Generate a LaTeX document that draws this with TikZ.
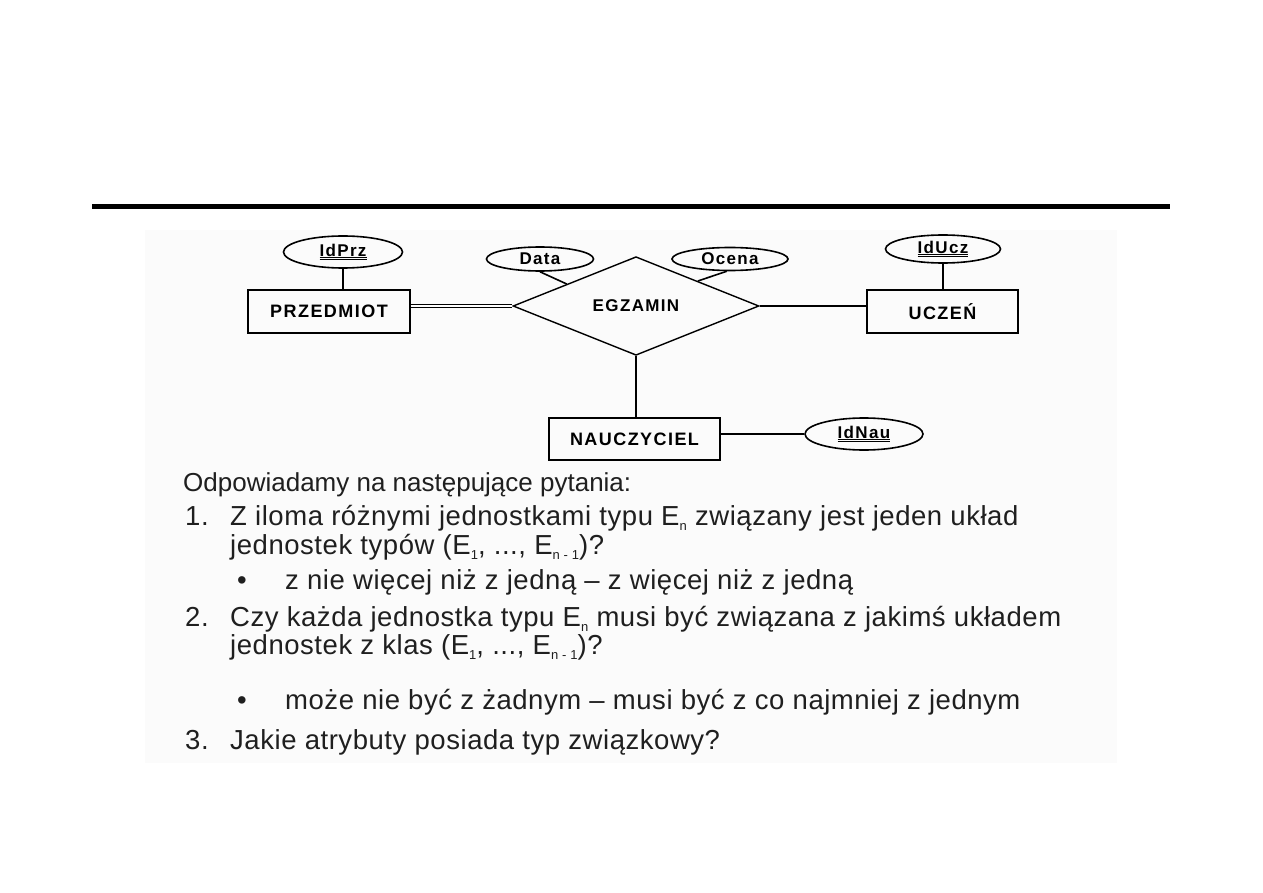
\documentclass[tikz,border=0pt]{standalone}
\usepackage{fontspec}
\setmainfont{Liberation Sans}
\newfontfamily\erfont[LetterSpace=8]{Liberation Sans}
\newfontfamily\itemfont[LetterSpace=2]{Liberation Sans}
\usepackage{tikz}
\usetikzlibrary{shapes.geometric,calc}

\newcommand{\klucz}[1]{\underline{\underline{#1}}}
\newcommand{\idx}[1]{\raisebox{-5pt}{\fontsize{13}{13}\selectfont #1}}

\begin{document}
\begin{tikzpicture}[x=1pt,y=-1pt,
  entity/.style={draw,rectangle,line width=1.6pt,inner sep=0pt,font=\erfont\bfseries\fontsize{18}{20}\selectfont},
  attr/.style={draw,ellipse,line width=1.6pt,inner sep=0pt,minimum width=116pt,minimum height=26pt,font=\erfont\bfseries\fontsize{17}{20}\selectfont},
  rel/.style={draw,diamond,line width=1.4pt,inner sep=0pt,minimum width=246pt,minimum height=66pt,font=\erfont\bfseries\fontsize{17}{20}\selectfont},
  conn/.style={line width=1.6pt},
  txt/.style={anchor=base west,inner sep=0pt,text=black!88,font=\fontsize{26}{29}\selectfont},
  item/.style={txt,font=\itemfont\fontsize{27.5}{29}\selectfont}]
  \useasboundingbox (0,0) rectangle (1263,893);
  % slide frame
  \fill[black!1.5] (145,230) rectangle (1117,763);
  \draw[line width=5pt] (92,207) -- (1170,207);

  % diagram
  \node[entity,minimum width=162pt,minimum height=43pt] (przedmiot) at (329,311.5) {PRZEDMIOT};
  \node[entity,minimum width=151pt,minimum height=43pt] (uczen) at (942.5,311.5) {UCZEŃ};
  \node[entity,minimum width=171pt,minimum height=42pt] (nauczyciel) at (634.5,439) {NAUCZYCIEL};
  \node[rel] (egzamin) at (636,306) {EGZAMIN};
  \node[attr,minimum width=119pt,minimum height=32pt] (idprz) at (343,252) {\klucz{IdPrz}};
  \node[attr,minimum width=107pt,minimum height=24pt] (data) at (540,259) {Data};
  \node[attr,minimum height=23pt] (ocena) at (730,259) {Ocena};
  \node[attr,minimum width=115pt,minimum height=28pt] (iducz) at (943,249) {\klucz{IdUcz}};
  \node[attr,minimum width=118pt,minimum height=32pt] (idnau) at (864,434) {\klucz{IdNau}};

  \draw[conn] (idprz.south) -- (idprz.south |- przedmiot.north);
  \draw[conn] (iducz.south) -- (iducz.south |- uczen.north);
  \draw[conn] (data.south) -- ($(egzamin.west)!0.44!(egzamin.north)$);
  \draw[conn] (ocena.-105) -- (egzamin.north east);
  \draw[line width=1pt,double,double distance=2.5pt] (przedmiot.east |- egzamin.west) -- (egzamin.west);
  \draw[conn] (egzamin.east) -- (egzamin.east -| uczen.west);
  \draw[conn] (egzamin.south) -- (egzamin.south |- nauczyciel.north);
  \draw[conn] (nauczyciel.east |- idnau.west) -- (idnau.west);

  % questions
  \node[txt] (q0) at (183,491) {Odpowiadamy na następujące pytania:};
  \node[item] (n1) at (185,525) {1.};
  \node[item] (q1a) at (230,525) {Z iloma różnymi jednostkami typu E\idx{n} związany jest jeden układ};
  \node[item] (q1b) at (230,554) {jednostek typów (E\idx{1}, ..., E\idx{n - 1})?};
  \node[item] (b1) at (237,589) {•};
  \node[item] (a1) at (285,589) {z nie więcej niż z jedną – z więcej niż z jedną};
  \node[item] (n2) at (185,626) {2.};
  \node[item] (q2a) at (230,626) {Czy każda jednostka typu E\idx{n} musi być związana z jakimś układem};
  \node[item] (q2b) at (230,654) {jednostek z klas (E\idx{1}, ..., E\idx{n - 1})?};
  \node[item] (b2) at (237,709) {•};
  \node[item] (a2) at (285,709) {może nie być z żadnym – musi być z co najmniej z jednym};
  \node[item] (n3) at (185,749) {3.};
  \node[item] (q3) at (230,749) {Jakie atrybuty posiada typ związkowy?};
\end{tikzpicture}
\end{document}
